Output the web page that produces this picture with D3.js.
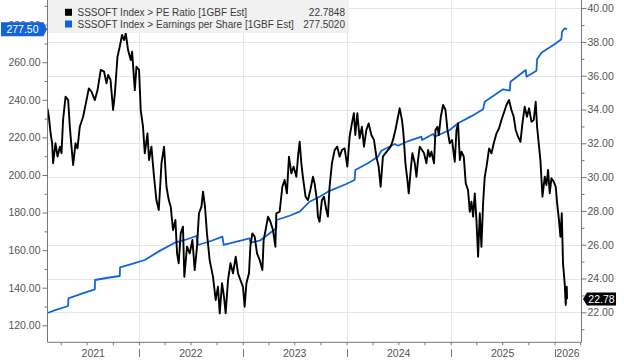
<!DOCTYPE html>
<html><head><meta charset="utf-8">
<script src="https://cdn.jsdelivr.net/npm/d3@7"></script>
<style>
html,body{margin:0;padding:0;background:#fff;}
svg{display:block;font-family:"Liberation Sans",Arial,sans-serif;}
</style></head><body>
<svg id="chart" width="624" height="360"></svg>
<script>
// ---- data (decimal-year time stamps) ----
const peTime = [2021.119,2021.132,2021.151,2021.164,2021.173,2021.196,2021.216,2021.238,2021.254,2021.269,2021.293,2021.318,2021.334,2021.350,2021.366,2021.389,2021.408,2021.430,2021.462,2021.495,2021.517,2021.543,2021.575,2021.601,2021.632,2021.664,2021.687,2021.703,2021.726,2021.751,2021.767,2021.793,2021.815,2021.837,2021.857,2021.873,2021.895,2021.921,2021.934,2021.960,2021.976,2022.001,2022.017,2022.039,2022.056,2022.082,2022.097,2022.120,2022.145,2022.168,2022.191,2022.217,2022.242,2022.265,2022.287,2022.306,2022.328,2022.351,2022.367,2022.383,2022.402,2022.424,2022.437,2022.463,2022.489,2022.515,2022.537,2022.559,2022.578,2022.602,2022.617,2022.636,2022.655,2022.681,2022.713,2022.739,2022.761,2022.778,2022.800,2022.819,2022.835,2022.858,2022.881,2022.906,2022.932,2022.954,2022.977,2023.002,2023.018,2023.035,2023.060,2023.073,2023.092,2023.115,2023.137,2023.163,2023.189,2023.201,2023.220,2023.243,2023.266,2023.291,2023.314,2023.323,2023.355,2023.381,2023.403,2023.425,2023.445,2023.468,2023.490,2023.516,2023.535,2023.548,2023.564,2023.579,2023.605,2023.628,2023.651,2023.676,2023.692,2023.714,2023.724,2023.740,2023.762,2023.782,2023.805,2023.820,2023.836,2023.859,2023.885,2023.910,2023.933,2023.955,2023.981,2024.007,2024.029,2024.051,2024.070,2024.084,2024.103,2024.125,2024.147,2024.167,2024.190,2024.212,2024.238,2024.263,2024.286,2024.308,2024.327,2024.349,2024.372,2024.397,2024.423,2024.446,2024.469,2024.494,2024.510,2024.532,2024.546,2024.565,2024.584,2024.597,2024.616,2024.632,2024.655,2024.671,2024.686,2024.703,2024.725,2024.744,2024.767,2024.783,2024.799,2024.815,2024.840,2024.854,2024.873,2024.886,2024.905,2024.927,2024.950,2024.969,2024.991,2025.013,2025.023,2025.039,2025.056,2025.071,2025.088,2025.104,2025.126,2025.145,2025.167,2025.184,2025.200,2025.216,2025.232,2025.248,2025.264,2025.280,2025.296,2025.312,2025.328,2025.345,2025.370,2025.393,2025.415,2025.441,2025.466,2025.489,2025.511,2025.537,2025.562,2025.585,2025.607,2025.626,2025.649,2025.672,2025.691,2025.713,2025.735,2025.755,2025.778,2025.800,2025.819,2025.832,2025.851,2025.864,2025.884,2025.906,2025.922,2025.938,2025.954,2025.970,2025.992,2026.012,2026.024,2026.043,2026.057,2026.070,2026.082,2026.099,2026.108,2026.118,2026.121];
const peValue = [34.05,33.57,32.49,32.00,30.82,32.00,31.21,31.80,31.41,33.38,34.76,34.56,32.98,31.80,30.72,32.00,31.70,32.98,33.57,34.56,35.25,35.05,34.56,35.15,36.34,36.24,35.55,36.04,35.75,33.97,34.86,37.12,37.72,38.41,38.11,38.51,37.52,36.93,37.42,35.15,36.53,36.34,33.97,32.98,31.41,32.59,31.01,31.80,30.02,28.64,28.05,30.82,31.80,29.43,28.64,28.25,26.87,27.46,25.49,24.90,26.67,27.07,24.10,25.88,25.49,26.28,24.50,25.88,27.86,28.25,29.14,28.25,26.67,25.09,24.11,22.73,23.51,21.94,23.72,22.92,21.94,23.91,24.90,24.31,25.29,24.31,23.91,23.51,22.33,23.72,24.31,25.88,26.67,26.47,25.49,25.09,24.50,26.28,26.87,27.66,27.36,26.87,25.88,27.86,27.95,29.43,29.83,29.04,31.21,30.22,30.62,30.02,31.41,32.09,30.82,30.02,28.84,28.64,29.24,30.02,29.63,28.64,27.66,27.36,28.64,28.84,28.05,27.66,29.43,30.82,31.60,31.80,31.21,31.60,31.70,30.62,32.39,33.18,33.78,32.49,33.78,32.30,32.98,31.80,32.79,33.18,32.49,32.20,31.21,30.62,29.43,31.21,31.41,31.60,31.80,32.20,32.79,33.57,34.07,33.38,32.59,30.82,29.83,29.04,30.42,31.41,30.82,30.02,31.01,31.80,31.60,31.41,30.82,31.60,31.21,31.50,30.82,32.79,32.98,32.49,33.57,34.27,33.97,32.79,32.00,32.20,31.70,30.91,32.79,33.18,31.01,31.50,31.21,29.63,29.24,27.95,28.54,27.66,29.04,27.46,25.29,27.86,25.88,28.45,30.02,30.62,31.70,31.41,32.00,32.59,32.89,33.38,33.78,34.27,34.56,33.97,33.57,32.79,32.39,32.09,33.18,34.17,33.57,34.07,33.28,33.38,34.46,32.98,31.80,31.01,28.84,30.02,29.53,30.42,29.04,29.93,29.73,29.43,28.54,27.46,26.47,27.86,24.90,23.62,22.43,23.51,22.78];
const epsTime = [2021.119,2021.200,2021.318,2021.320,2021.450,2021.575,2021.577,2021.700,2021.815,2021.818,2021.950,2022.056,2022.200,2022.345,2022.441,2022.553,2022.569,2022.700,2022.804,2022.816,2022.950,2023.066,2023.073,2023.163,2023.323,2023.326,2023.450,2023.548,2023.644,2023.740,2023.820,2023.997,2024.077,2024.084,2024.200,2024.301,2024.334,2024.462,2024.494,2024.600,2024.719,2024.725,2024.831,2024.847,2024.991,2025.071,2025.200,2025.312,2025.328,2025.504,2025.569,2025.576,2025.723,2025.730,2025.826,2025.832,2025.874,2026.000,2026.066,2026.072,2026.098,2026.121];
const epsValue = [126.55,128.2,130.27,134.37,136.8,139.16,144.11,145.3,146.24,150.87,152.9,154.75,159.6,163.96,165.40,167.53,162.74,165.0,167.15,162.74,164.6,166.30,163.96,165.02,171.62,176.04,178.3,180.46,185.78,188.44,191.10,195.20,197.33,202.65,206.1,209.73,212.92,216.49,215.58,218.2,220.37,218.62,221.81,220.37,223.94,227.50,231.3,234.95,239.00,245.60,244.85,249.64,255.87,252.30,255.50,261.56,265.08,269.6,272.21,276.25,278.06,277.50];
const leftMajor = [120,140,160,180,200,220,240,260,280];
const leftMinor = [130,150,170,190,210,230,250,270,290];
const rightMajor = [22,24,26,28,30,32,34,36,38,40];
const rightMinor = [21,23,25,27,29,31,33,35,37,39];
const years = [2021,2022,2023,2024,2025,2026];
const seriesNames = ["SSSOFT Index > PE Ratio [1GBF Est]","SSSOFT Index > Earnings per Share [1GBF Est]"];
const seriesLast = ["22.7848","277.5020"];
const colors = ["#000000","#1264d8"];

function decToDate(t){
  const y = Math.floor(t);
  const a = Date.UTC(y,0,1), b = Date.UTC(y+1,0,1);
  return new Date(a + (t-y)*(b-a));
}

const L=47.5, R=581.5, T=0, B=342.3;
const svg = d3.select("#chart");
const x = d3.scaleUtc().domain([decToDate(2021.119), decToDate(2026.26)]).range([L,R]);
const yL = d3.scaleLinear().domain([110.95, 293.12]).range([B,T]);
const yR = d3.scaleLinear().domain([20.225, 40.48]).range([B,T]);

// grid
const grid = svg.append("g").attr("stroke","#e6e6e6").attr("stroke-width",1);
rightMajor.forEach(v=>{
  const yy = Math.round(yR(v))+0.5;
  grid.append("line").attr("x1",L).attr("x2",R).attr("y1",yy).attr("y2",yy);
});
years.slice(1).forEach(yr=>{
  const xx = Math.round(x(new Date(Date.UTC(yr,0,1))))+0.5;
  grid.append("line").attr("x1",xx).attr("x2",xx).attr("y1",T).attr("y2",B);
});

// lines
svg.append("clipPath").attr("id","clip").append("rect").attr("x",L).attr("y",T).attr("width",R-L).attr("height",B-T);
const gl = svg.append("g").attr("clip-path","url(#clip)");
const epsData = epsTime.map((t,i)=>({t:decToDate(t),v:epsValue[i]}));
const peData = peTime.map((t,i)=>({t:decToDate(t),v:peValue[i]}));
gl.append("path").datum(epsData).attr("fill","none").attr("stroke",colors[1]).attr("stroke-width",1.8)
  .attr("stroke-linejoin","round")
  .attr("d",d3.line().x(d=>x(d.t)).y(d=>yL(d.v)));
gl.append("path").datum(peData).attr("fill","none").attr("stroke",colors[0]).attr("stroke-width",1.9)
  .attr("stroke-linejoin","round")
  .attr("d",d3.line().x(d=>x(d.t)).y(d=>yR(d.v)));

// axes
const axisColor="#777", labColor="#555";
function styleAxis(g){
  g.selectAll(".domain").attr("stroke",axisColor);
  g.selectAll(".tick line").attr("stroke",axisColor);
  g.selectAll("text").attr("fill",labColor).style("font-size","10.5px").style("font-family",'"Liberation Sans",Arial,sans-serif');
}
const gLeft = svg.append("g").attr("transform",`translate(${L},0)`)
  .call(d3.axisLeft(yL).tickValues(leftMajor).tickFormat(d3.format(".2f")).tickSize(5).tickPadding(2));
gLeft.select(".domain").attr("d",`M0,${T}V${B}`);
styleAxis(gLeft);
const gLeftMin = svg.append("g").attr("transform",`translate(${L},0)`)
  .call(d3.axisLeft(yL).tickValues(leftMinor).tickFormat("").tickSize(3));
gLeftMin.select(".domain").remove(); styleAxis(gLeftMin);

const gRight = svg.append("g").attr("transform",`translate(${R},0)`)
  .call(d3.axisRight(yR).tickValues(rightMajor).tickFormat(d3.format(".2f")).tickSize(5).tickPadding(1));
gRight.select(".domain").attr("d",`M0,${T}V${B}`);
styleAxis(gRight);
const gRightMin = svg.append("g").attr("transform",`translate(${R},0)`)
  .call(d3.axisRight(yR).tickValues(rightMinor).tickFormat("").tickSize(3));
gRightMin.select(".domain").remove(); styleAxis(gRightMin);

const quarters = d3.utcMonth.every(3).range(x.domain()[0], x.domain()[1]);
const gBot = svg.append("g").attr("transform",`translate(0,${B})`)
  .call(d3.axisBottom(x).tickValues(quarters).tickFormat("").tickSize(3));
gBot.select(".domain").attr("d",`M${L},0H${R}`);
styleAxis(gBot);

// year labels & separators
years.forEach(yr=>{
  const s = Math.max(L, x(new Date(Date.UTC(yr,0,1))));
  const e = Math.min(R, x(new Date(Date.UTC(yr+1,0,1))));
  svg.append("text").attr("x",(s+e)/2).attr("y",356.5).attr("text-anchor","middle")
    .attr("fill",labColor).style("font-size","10.5px").text(String(yr));
  if (yr>2021){
    const xx = Math.round(x(new Date(Date.UTC(yr,0,1))))+0.5;
    svg.append("line").attr("x1",xx).attr("x2",xx).attr("y1",349).attr("y2",357).attr("stroke",axisColor);
  }
});

// legend
const lg = svg.append("g");
lg.append("rect").attr("x",48).attr("y",0).attr("width",301).attr("height",33).attr("fill","#f0f0f0").attr("fill-opacity",0.95);
seriesNames.forEach((n,i)=>{
  const cy = 12.3 + i*11.7;
  lg.append("rect").attr("x",65).attr("y",cy-3.5).attr("width",7).attr("height",7).attr("fill",colors[i]);
  lg.append("text").attr("x",77.5).attr("y",cy+3.5).attr("fill","#3a3a3a").style("font-size","10px").text(n);
  lg.append("text").attr("x",345).attr("y",cy+3.5).attr("text-anchor","end").attr("fill","#3a3a3a").style("font-size","10px").text(seriesLast[i]);
});

// last value tags
const fmt = d3.format(".2f");
const ye = yL(epsValue[epsValue.length-1]);
svg.append("path").attr("d",`M1,${ye-7}H43.5L47,${ye}L43.5,${ye+7}H1Z`).attr("fill",colors[1]);
svg.append("text").attr("x",22.5).attr("y",ye+3.8).attr("text-anchor","middle").attr("fill","#fff")
  .style("font-size","10.5px").text(fmt(epsValue[epsValue.length-1]));
const yp = yR(peValue[peValue.length-1]);
svg.append("path").attr("d",`M583,${yp}L587,${yp-6.5}H616V${yp+6.5}H587Z`).attr("fill","#000");
svg.append("text").attr("x",601.5).attr("y",yp+3.7).attr("text-anchor","middle").attr("fill","#fff")
  .style("font-size","10.5px").text(fmt(peValue[peValue.length-1]));
</script>
</body></html>
